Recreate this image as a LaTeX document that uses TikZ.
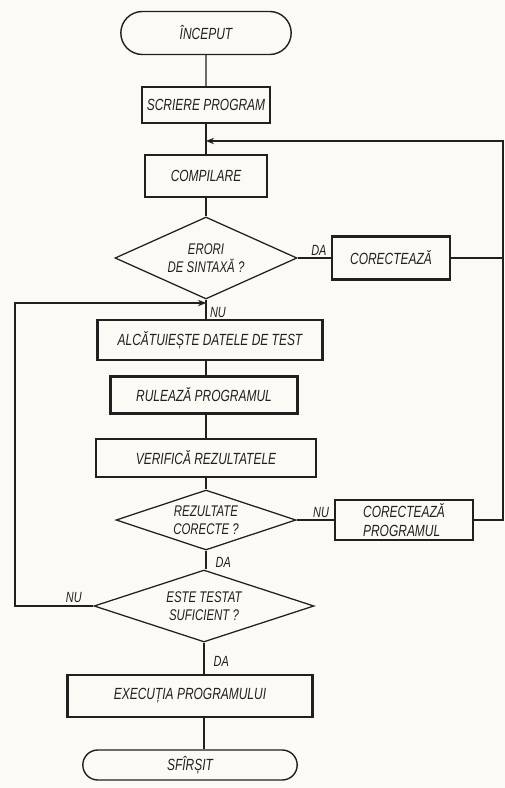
\documentclass[tikz,border=0pt]{standalone}
\usepackage{fontspec}
\newfontfamily\litera[FakeStretch=0.74]{Liberation Sans}
\usepackage{tikz}
\usetikzlibrary{arrows.meta,positioning,shapes.geometric,shapes.misc}
\definecolor{Hartie}{RGB}{251,250,245}
\definecolor{Cerneala}{RGB}{32,32,32}
\tikzset{
  terminal/.style={draw=Cerneala, line width=1pt, rounded rectangle, text=Cerneala,
                font=\litera\itshape\fontsize{11.5}{13}\selectfont, inner sep=2pt},
  proces/.style={draw=Cerneala, line width=1.7pt, rectangle, text=Cerneala, align=center,
                font=\litera\itshape\fontsize{11.5}{13}\selectfont, inner sep=2pt},
  decizie/.style={draw=Cerneala, line width=0.9pt, diamond, aspect=2.6, text=Cerneala, align=center,
                font=\litera\itshape\fontsize{11}{12.5}\selectfont, inner sep=0pt},
  eticheta/.style={font=\litera\itshape\fontsize{10.5}{12}\selectfont, text=Cerneala, inner sep=1pt},
  % legaturi: linie simpla, iar la reintrarea in coloana cu sageata
  flux/.style={draw=Cerneala, line width=0.8pt},
  intrare/.style={flux, -{Stealth[length=2mm, width=1.6mm]}},
}

\begin{document}
\begin{tikzpicture}[node distance=2mm and 2mm]

  \fill[Hartie] (0,0) rectangle (12.625,-19.7);
  \useasboundingbox (0,0) rectangle (12.625,-19.7);

  % --- Scriere si compilare ---------------------------------------------------
  \node[terminal,minimum width=4.4cm,minimum height=1.075cm] (inceput)   at (5.15,-0.825) {ÎNCEPUT};
  \node[proces,minimum width=3.2cm,minimum height=0.9cm]     (scriere)   at (5.15,-2.625) {SCRIERE PROGRAM};
  \node[proces,minimum width=3.05cm,minimum height=1.05cm]   (compilare) at (5.15,-4.4)   {COMPILARE};
  \node[decizie,minimum width=4.55cm,minimum height=2.05cm,aspect=2.2] (eroare) at (5.15,-6.45) {ERORI\\DE SINTAXĂ ?};
  \node[proces,minimum width=2.95cm,minimum height=1.075cm]  (corect1)   at (9.775,-6.45) {CORECTEAZĂ};

  \coordinate (intoarcere) at (5.15,-3.525);
  \coordinate (dreaptasus) at (12.575,-3.525);

  \draw[flux] (inceput) -- (scriere);
  \draw[flux] (scriere) -- (compilare);
  \draw[flux] (compilare) -- (eroare);
  \draw[flux] (eroare.east) -- (corect1.west);
  \draw[flux] (corect1.east) -- (corect1.east -| dreaptasus);

  \node[eticheta, above right=0.3mm and 3mm of eroare.east] (da1) {DA};
  \node[eticheta, below right=1.5mm and 0.6mm of eroare.south] (nu1) {NU};

  % --- Testare ----------------------------------------------------------------
  \node[proces,minimum width=5.625cm,minimum height=1.0cm]   (alcatuieste) at (5.25,-8.5)  {ALCĂTUIEȘTE DATELE DE TEST};
  \node[proces,minimum width=4.675cm,minimum height=0.925cm] (ruleaza)     at (5.1,-9.875) {RULEAZĂ PROGRAMUL};
  \node[proces,minimum width=5.5cm,minimum height=0.95cm]    (verifica)    at (5.15,-11.45) {VERIFICĂ REZULTATELE};
  \node[decizie,minimum width=4.5cm,minimum height=1.5cm,aspect=3] (corecte) at (5.15,-13.0) {REZULTATE\\CORECTE ?};
  \node[proces,minimum width=3.45cm,minimum height=1.0cm,align=left] (corect2) at (10.1,-13.0) {CORECTEAZĂ\\PROGRAMUL};
  \node[decizie,minimum width=5.5cm,minimum height=1.8cm,aspect=3.05] (testat) at (5.1,-15.15) {ESTE TESTAT\\SUFICIENT ?};

  \coordinate (reintrare)  at (5.15,-7.575);
  \coordinate (dreaptajos) at (12.575,-13.0);
  \coordinate (stangajos)  at (0.375,-15.15);
  \coordinate (stangasus)  at (0.375,-7.575);

  \draw[flux] (eroare.south) -- (eroare.south |- alcatuieste.north);
  \draw[flux] (eroare.south |- alcatuieste.south) -- (eroare.south |- ruleaza.north);
  \draw[flux] (eroare.south |- ruleaza.south) -- (verifica);
  \draw[flux] (verifica) -- (corecte);
  \draw[flux] (corecte.east) -- (corect2.west);
  \draw[flux] (corecte.south) -- (corecte.south |- testat.north);
  \draw[intrare] (corect2.east) -- (dreaptajos) -- (dreaptasus) -- (intoarcere);
  \draw[intrare] (testat.west) -- (stangajos) -- (stangasus) -- (reintrare);

  \node[eticheta, above left=0.2mm and 0.8mm of corect2.west] (nu2) {NU};
  \node[eticheta, below right=1.2mm and 2mm of corecte.south] (da2) {DA};
  \node[eticheta, above left=0.3mm and 2.5mm of testat.west] (nu3) {NU};

  % --- Final ------------------------------------------------------------------
  \node[proces,minimum width=6.125cm,minimum height=1.05cm] (executie) at (4.75,-17.4)  {EXECUȚIA PROGRAMULUI};
  \node[terminal,minimum width=5.5cm,minimum height=0.75cm] (sfarsit)  at (4.75,-19.125) {SFÎRȘIT};

  \draw[flux] (testat.south) -- (testat.south |- executie.north);
  \draw[flux] (testat.south |- executie.south) -- (testat.south |- sfarsit.north);

  \node[eticheta, below right=3mm and 2mm of testat.south] (da3) {DA};

\end{tikzpicture}
\end{document}
